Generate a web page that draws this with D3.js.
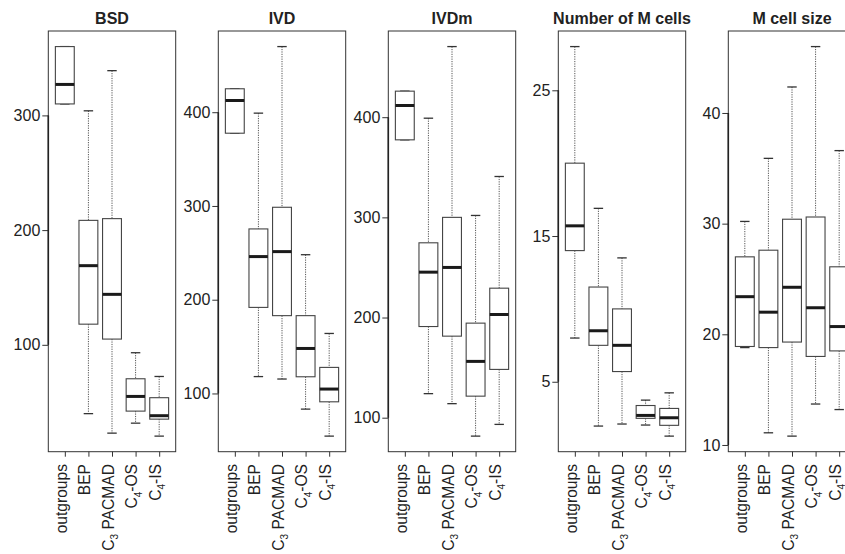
<!DOCTYPE html>
<html>
<head>
<meta charset="utf-8">
<script src="https://cdn.jsdelivr.net/npm/d3@7"></script>
<style>
	html, body { margin: 0; padding: 0; background: #fff; }
	svg { display: block; font-family: "Liberation Sans", Arial, sans-serif; }
</style>
</head>
<body>
<script>
// * DATA
// box stats per group: [min, q1, median, q3, max]
const groups = ["outgroups", "BEP", "C3 PACMAD", "C4-OS", "C4-IS"];

const bsdStats = [
	[310, 310, 327, 360, 360],
	[40, 118, 169, 208.5, 304],
	[23, 105, 144, 210, 339],
	[31.7, 42.2, 55, 70.4, 93.1],
	[20.4, 35.2, 38.2, 53.9, 72.4],
];
const ivdStats = [
	[377.6, 377.6, 412.5, 425, 425],
	[118, 191.8, 246, 275.5, 399],
	[115.4, 183, 251.3, 298.6, 470],
	[83.3, 117.8, 148, 183, 248],
	[54.5, 91.1, 104.7, 127.8, 164],
];
const ivdmStats = [
	[377.4, 377.4, 411.7, 426, 426],
	[124, 191, 245.3, 274.6, 399],
	[114, 181.4, 250, 300, 470.5],
	[81.6, 121.5, 156.2, 194.4, 301.9],
	[93.3, 148.2, 203, 229.3, 340.8],
];
const mCellsStats = [
	[8, 14, 15.7, 20, 28],
	[1.96, 7.5, 8.5, 11.5, 16.9],
	[2.1, 5.7, 7.5, 10, 13.5],
	[2.03, 2.49, 2.69, 3.37, 3.74],
	[1.27, 2.01, 2.53, 3.17, 4.24],
];
const mSizeStats = [
	[18.8, 18.9, 23.4, 27, 30.2],
	[11.1, 18.8, 22, 27.6, 35.9],
	[10.8, 19.3, 24.25, 30.4, 42.35],
	[13.7, 18, 22.4, 30.6, 46],
	[13.2, 18.5, 20.7, 26.1, 36.6],
];

const titles = ["BSD", "IVD", "IVDm", "Number of M cells", "M cell size"];
const yTicks = [
	[100, 200, 300],
	[100, 200, 300, 400],
	[100, 200, 300, 400],
	[5, 15, 25],
	[10, 20, 30, 40],
];
const allStats = [bsdStats, ivdStats, ivdmStats, mCellsStats, mSizeStats];

// * SETUP
const width = 845;
const height = 554;
const panelStep = 170;
const frameLeft = 48.3;
const frameWidth = 127.4;
const frameTop = 31;
const frameBottom = 451.7;
const labelTop = 464;

const svg = d3
	.select("body")
	.append("svg")
	.attr("width", width)
	.attr("height", height)
	.attr("viewBox", [0, 0, width, height]);

// label with subscript: "C3 PACMAD" -> C, sub 3, " PACMAD"
function writeLabel(text, name) {
	const m = name.match(/^C(\d)(.*)$/);
	if (!m) {
		text.text(name);
		return;
	}
	text.append("tspan").text("C");
	text.append("tspan")
		.attr("font-size", 10)
		.attr("dy", 4.5)
		.text(m[1]);
	text.append("tspan")
		.attr("dy", -4.5)
		.text(m[2].replace(/^ /, "\u00a0"));
}

allStats.forEach((stats, p) => {
	const left = frameLeft + p * panelStep;
	const right = left + frameWidth;

	const x = d3.scaleLinear().domain([0.3, groups.length + 0.7]).range([left, right]);

	// R style 4% padding on the data range
	const lo = d3.min(stats, (d) => d[0]);
	const hi = d3.max(stats, (d) => d[4]);
	const pad = (hi - lo) * 0.04;
	const y = d3.scaleLinear().domain([lo - pad, hi + pad]).range([frameBottom, frameTop]);

	const g = svg.append("g").attr("class", "panel");

	// title
	g.append("text")
		.attr("x", (left + right) / 2)
		.attr("y", 24)
		.attr("text-anchor", "middle")
		.attr("font-weight", "bold")
		.attr("font-size", 16)
		.attr("fill", "#222")
		.text(titles[p]);

	// frame
	g.append("rect")
		.attr("x", left)
		.attr("y", frameTop)
		.attr("width", frameWidth)
		.attr("height", frameBottom - frameTop)
		.attr("fill", "none")
		.attr("stroke", "#333")
		.attr("stroke-width", 1);

	// y axis
	const ticks = yTicks[p];
	g.append("g")
		.attr("transform", `translate(${left},0)`)
		.call(d3.axisLeft(y).tickValues(ticks).tickSize(6).tickPadding(2).tickSizeOuter(0))
		.call((a) => a.select(".domain").remove())
		.call((a) => a.selectAll(".tick line").attr("stroke", "#333"))
		.call((a) =>
			a.selectAll(".tick text")
				.attr("font-size", 16)
				.attr("fill", "#222")
				.attr("font-family", "Liberation Sans, Arial, sans-serif")
		);
	g.append("line")
		.attr("x1", left)
		.attr("x2", left)
		.attr("y1", y(d3.min(ticks)))
		.attr("y2", y(d3.max(ticks)))
		.attr("stroke", "#222")
		.attr("stroke-width", 1.6);

	// x axis ticks
	const xIdx = d3.range(1, groups.length + 1);
	g.append("g")
		.attr("transform", `translate(0,${frameBottom})`)
		.call(d3.axisBottom(x).tickValues(xIdx).tickSize(5).tickFormat(() => "").tickSizeOuter(0))
		.call((a) => a.select(".domain").remove())
		.call((a) => a.selectAll(".tick line").attr("stroke", "#333"));

	// rotated group labels
	g.selectAll("text.xlab")
		.data(groups)
		.join("text")
		.attr("class", "xlab")
		.attr("transform", (d, i) => `translate(${x(i + 1) + 1.8},${labelTop}) rotate(-90)`)
		.attr("text-anchor", "end")
		.attr("font-size", 15.6)
		.attr("fill", "#222")
		.each(function (d) {
			writeLabel(d3.select(this), d);
		});

	// * BOXES
	const boxW = x(1.4) - x(1);
	const capW = boxW / 2;
	const box = g
		.selectAll("g.box")
		.data(stats)
		.join("g")
		.attr("class", "box");

	// whiskers (dotted)
	box.append("line")
		.attr("x1", (d, i) => x(i + 1))
		.attr("x2", (d, i) => x(i + 1))
		.attr("y1", (d) => y(d[4]))
		.attr("y2", (d) => y(d[3]))
		.attr("stroke", "#555")
		.attr("stroke-dasharray", "1.2,1.2");
	box.append("line")
		.attr("x1", (d, i) => x(i + 1))
		.attr("x2", (d, i) => x(i + 1))
		.attr("y1", (d) => y(d[1]))
		.attr("y2", (d) => y(d[0]))
		.attr("stroke", "#555")
		.attr("stroke-dasharray", "1.2,1.2");

	// caps
	box.append("line")
		.attr("x1", (d, i) => x(i + 1) - capW)
		.attr("x2", (d, i) => x(i + 1) + capW)
		.attr("y1", (d) => y(d[4]))
		.attr("y2", (d) => y(d[4]))
		.attr("stroke", "#333")
		.attr("stroke-width", 1.3);
	box.append("line")
		.attr("x1", (d, i) => x(i + 1) - capW)
		.attr("x2", (d, i) => x(i + 1) + capW)
		.attr("y1", (d) => y(d[0]))
		.attr("y2", (d) => y(d[0]))
		.attr("stroke", "#333")
		.attr("stroke-width", 1.3);

	// box body
	box.append("rect")
		.attr("x", (d, i) => x(i + 1) - boxW)
		.attr("y", (d) => y(d[3]))
		.attr("width", boxW * 2)
		.attr("height", (d) => y(d[1]) - y(d[3]))
		.attr("fill", "#fff")
		.attr("stroke", "#444")
		.attr("stroke-width", 1.1);

	// median
	box.append("line")
		.attr("x1", (d, i) => x(i + 1) - boxW)
		.attr("x2", (d, i) => x(i + 1) + boxW)
		.attr("y1", (d) => y(d[2]))
		.attr("y2", (d) => y(d[2]))
		.attr("stroke", "#1a1a1a")
		.attr("stroke-width", 3);
});
</script>
</body>
</html>
